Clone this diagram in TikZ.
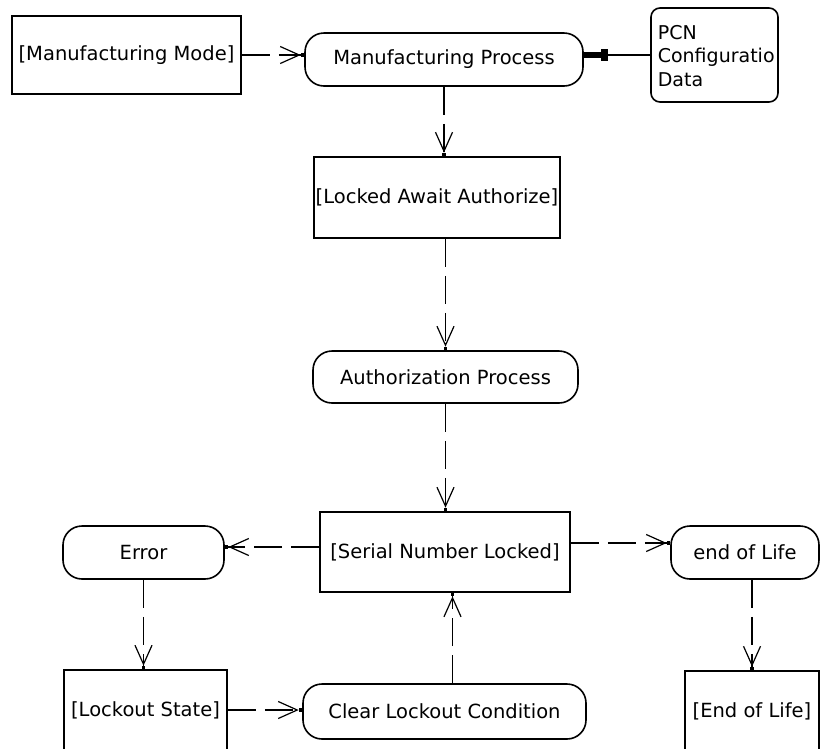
\documentclass[tikz,border=0pt]{standalone}
\usepackage{fontspec}
\setmainfont{DejaVu Sans}
\usetikzlibrary{arrows.meta}
\begin{document}
\begin{tikzpicture}[x=1pt,y=-1pt,
  every node/.style={font=\fontsize{19.5}{24}\selectfont, inner sep=0pt, line width=1.6pt},
  statebox/.style={draw, rectangle},
  actbox/.style={draw, rectangle, rounded corners=19pt},
  flow/.style={line width=1.6pt, dash pattern=on 28pt off 9pt,
    -{Straight Barb[length=19pt,width=17pt,line width=1.2pt] Square[length=3.5pt,width=3.5pt]}},
  datalink/.style={line width=1.6pt, -{Rectangle[length=7pt,width=12pt] Rectangle[length=17pt,width=6pt]}}
]
\useasboundingbox (0,0) rectangle (821,748);

\node[statebox, minimum width=229pt, minimum height=78pt] (mmode) at (126.5,55) {[Manufacturing Mode]};
\node[actbox, minimum width=278pt, minimum height=53pt] (mproc) at (444,59.5) {Manufacturing Process};
\node[draw, rounded corners=9pt, minimum width=127pt, minimum height=94pt] (pcn) at (714.5,55) {};
\node[anchor=west, align=left, font=\fontsize{19}{23.5}\selectfont] (pcntext) at (657,56) {PCN\\Configuratio\\Data};
\node[statebox, minimum width=246pt, minimum height=81pt] (lockaw) at (437,197.5) {[Locked Await Authorize]};
\node[actbox, minimum width=265pt, minimum height=52pt] (auth) at (445.5,377) {Authorization Process};
\node[statebox, minimum width=250pt, minimum height=80pt] (serial) at (445,552) {[Serial Number Locked]};
\node[actbox, minimum width=161pt, minimum height=53pt] (error) at (143.5,552.5) {Error};
\node[actbox, minimum width=148pt, minimum height=53pt] (eol) at (745,552.5) {end of Life};
\node[statebox, minimum width=163pt, minimum height=80pt] (lockout) at (145.5,710) {[Lockout State]};
\node[actbox, minimum width=283pt, minimum height=55pt] (clear) at (444.5,711.5) {Clear Lockout Condition};
\node[statebox, minimum width=134pt, minimum height=80pt] (eolbox) at (752,711) {[End of Life]};

\draw[flow] (mmode.east) -- (mmode.east -| mproc.west);
\draw[datalink] (pcn.west) -- (pcn.west -| mproc.east);
\draw[flow] (mproc.south) -- (mproc.south |- lockaw.north);
\draw[flow] (auth.north |- lockaw.south) -- (auth.north);
\draw[flow] (auth.south) -- (auth.south |- serial.north);
\draw[flow] ([yshift=5pt]serial.west) -- ([yshift=5pt]serial.west -| error.east);
\draw[flow] ([yshift=9pt]serial.east) -- ([yshift=9pt]serial.east -| eol.west);
\draw[flow] (error.south) -- (error.south |- lockout.north);
\draw[flow] (lockout.east) -- (lockout.east -| clear.west);
\draw[flow] ([xshift=8pt]clear.north) -- ([xshift=8pt]clear.north |- serial.south);
\draw[flow] (eolbox.north |- eol.south) -- (eolbox.north);
\end{tikzpicture}
\end{document}
